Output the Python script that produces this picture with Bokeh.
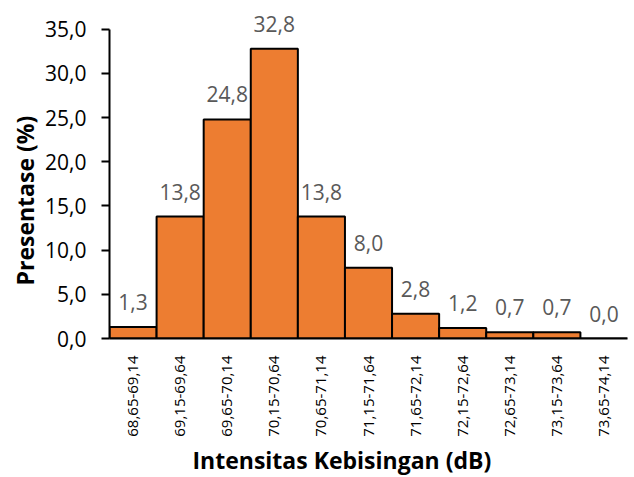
import math
from bokeh.plotting import figure
from bokeh.models import (ColumnDataSource, FactorRange, Range1d, FixedTicker,
                          CustomJSTickFormatter, LabelSet, Title)
from bokeh.core.properties import value
from bokeh.embed import file_html
from bokeh.resources import INLINE

categories = ["68,65-69,14", "69,15-69,64", "69,65-70,14", "70,15-70,64",
              "70,65-71,14", "71,15-71,64", "71,65-72,14", "72,15-72,64",
              "72,65-73,14", "73,15-73,64", "73,65-74,14"]
percent = [1.3, 13.8, 24.8, 32.8, 13.8, 8.0, 2.8, 1.2, 0.7, 0.7, 0.0]
y_ticks = [0, 5, 10, 15, 20, 25, 30, 35]
x_title = "Intensitas Kebisingan (dB)"
y_title = "Presentase (%)"

FONT = "Open Sans"

labels = [f"{v:.1f}".replace(".", ",") for v in percent]
src = ColumnDataSource(dict(cat=categories, val=percent, lab=labels))

# frame spans the whole top; axis line is bounded to 0..35
p = figure(width=634, height=477, x_range=FactorRange(*categories),
           y_range=Range1d(0, 38.26), output_backend="svg", toolbar_location=None,
           min_border_left=109, min_border_right=7, min_border_top=0,
           min_border_bottom=137)
p.outline_line_color = None
p.xgrid.grid_line_color = None
p.ygrid.grid_line_color = None
p.background_fill_color = "white"
p.border_fill_color = "white"

p.vbar(x="cat", top="val", width=1.0, source=src, fill_color="#ED7D31",
       line_color="black", line_width=2)
ls = LabelSet(x="cat", y="val", text="lab", source=src, text_align="center",
              text_baseline="alphabetic", y_offset=17, text_color="#595959",
              text_font=value(FONT), text_font_size=value("21px"), level="overlay")
p.add_layout(ls)

# y axis
ya = p.yaxis[0]
ya.bounds = (0, 35)
ya.ticker = FixedTicker(ticks=y_ticks)
ya.formatter = CustomJSTickFormatter(code="return tick.toFixed(1).replace('.', ',');")
ya.axis_line_width = 2
ya.axis_line_color = "black"
ya.major_tick_line_width = 2
ya.major_tick_out = 8
ya.major_tick_in = 0
ya.minor_tick_line_color = None
ya.major_label_standoff = 15
ya.major_label_text_font = FONT
ya.major_label_text_font_size = "21px"
ya.major_label_text_color = "black"

# x axis
xa = p.xaxis[0]
xa.axis_line_width = 2
xa.axis_line_color = "black"
xa.major_tick_line_color = None
xa.minor_tick_line_color = None
xa.major_label_orientation = math.pi / 2
xa.major_label_standoff = 11
xa.major_label_text_font = FONT
xa.major_label_text_font_size = "15px"
xa.major_label_text_color = "black"

yt = Title(text=y_title, align="left", offset=53, standoff=4,
           text_font=FONT, text_font_style="bold", text_font_size="23px",
           text_color="black")
p.add_layout(yt, "left")

xt = Title(text=x_title, align="left", offset=83, standoff=4,
           text_font=FONT, text_font_style="bold", text_font_size="23px",
           text_color="black")
p.add_layout(xt, "below")

open("out.html", "w").write(file_html(p, INLINE))
